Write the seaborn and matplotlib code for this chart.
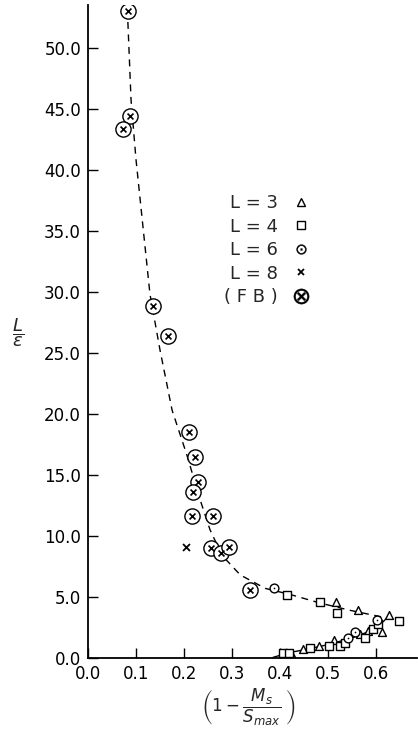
import numpy as np
import pandas as pd
import matplotlib
matplotlib.use("Agg")
import matplotlib.pyplot as plt
import seaborn as sns
from matplotlib.lines import Line2D

# ---- data ----
fb_x = [0.083, 0.0875, 0.073, 0.135, 0.167, 0.210, 0.223, 0.229, 0.219, 0.217, 0.260, 0.256, 0.277, 0.294, 0.3375]
fb_y = [53.0, 44.4, 43.3, 28.8, 26.4, 18.5, 16.5, 14.4, 13.6, 11.6, 11.6, 9.0, 8.6, 9.1, 5.6]

l3_x = [0.517, 0.5625, 0.627, 0.423, 0.448, 0.481, 0.512, 0.567, 0.583, 0.6125]
l3_y = [4.6, 3.9, 3.5, 0.4, 0.7, 0.95, 1.45, 2.0, 2.2, 2.1]

l4_x = [0.414, 0.483, 0.519, 0.648, 0.406, 0.419, 0.4625, 0.502, 0.525, 0.535, 0.577, 0.594, 0.604]
l4_y = [5.2, 4.6, 3.7, 3.0, 0.45, 0.4, 0.8, 1.0, 1.0, 1.2, 1.6, 2.4, 2.75]

l6_x = [0.3875, 0.602, 0.542, 0.556]
l6_y = [5.7, 3.1, 1.6, 2.1]

l8_x = [0.204]
l8_y = [9.1]

curve_x = [0.083, 0.0896, 0.100, 0.115, 0.129, 0.150, 0.175, 0.206, 0.233, 0.254, 0.279, 0.317, 0.369, 0.421, 0.483, 0.546, 0.619]
curve_y = [52.1, 45.7, 40.8, 35.1, 29.8, 25.2, 20.3, 16.6, 13.0, 10.5, 8.4, 6.8, 5.7, 5.2, 4.5, 3.9, 3.3]

low_x = [0.385, 0.42, 0.46, 0.50, 0.55, 0.58, 0.60, 0.615, 0.625]
low_y = [0.05, 0.45, 0.75, 1.1, 1.65, 2.1, 2.6, 3.0, 3.4]

y_ticks = [0, 5, 10, 15, 20, 25, 30, 35, 40, 45, 50]
x_ticks = [0.0, 0.1, 0.2, 0.3, 0.4, 0.5, 0.6]

legend_labels = ["L = 3", "L = 4", "L = 6", "L = 8", "( F B )"]

# ---- figure ----
sns.set_theme(style="white")
plt.rcParams['font.family'] = ['DejaVu Sans']
plt.rcParams['mathtext.fontset'] = 'dejavusans'

fig = plt.figure(figsize=(4.18, 7.49), dpi=100)
ax = fig.add_axes([0.2105, 0.1215, 0.7875, 0.872])

curve_df = pd.DataFrame({"x": curve_x, "y": curve_y})
low_df = pd.DataFrame({"x": low_x, "y": low_y})
sns.lineplot(data=curve_df, x="x", y="y", ax=ax, color="black", lw=1.0,
             linestyle=(0, (5, 4)), sort=False, estimator=None)
sns.lineplot(data=low_df, x="x", y="y", ax=ax, color="black", lw=1.0,
             sort=False, estimator=None)

mk = dict(edgecolor="black", linewidth=1.0, zorder=3)
sns.scatterplot(x=fb_x, y=fb_y, ax=ax, marker="o", s=120, facecolor="white", **mk)
sns.scatterplot(x=fb_x, y=fb_y, ax=ax, marker="x", s=18, color="black", linewidth=1.2, zorder=4)
sns.scatterplot(x=l3_x, y=l3_y, ax=ax, marker="^", s=32, facecolor="white", **mk)
sns.scatterplot(x=l4_x, y=l4_y, ax=ax, marker="s", s=30, facecolor="white", **mk)
sns.scatterplot(x=l6_x, y=l6_y, ax=ax, marker="o", s=40, facecolor="white", **mk)
sns.scatterplot(x=l6_x, y=l6_y, ax=ax, marker=".", s=6, color="black", linewidth=0, zorder=4)
sns.scatterplot(x=l8_x, y=l8_y, ax=ax, marker="x", s=25, color="black", linewidth=1.3, zorder=4)

handles = [
    Line2D([], [], ls="none", marker="^", ms=5.5, mfc="white", mec="black", mew=1.0),
    Line2D([], [], ls="none", marker="s", ms=5.5, mfc="white", mec="black", mew=1.0),
    Line2D([], [], ls="none", marker="$\\odot$", ms=7, mfc="black", mec="black", mew=0.3),
    Line2D([], [], ls="none", marker="x", ms=5, mec="black", mew=1.3),
    Line2D([], [], ls="none", marker="$\\otimes$", ms=11, mfc="black", mec="black", mew=0.3),
]
ax.legend(handles, legend_labels, loc="upper left", bbox_to_anchor=(0.392, 0.721),
          frameon=False, markerfirst=False, fontsize=13, handlelength=1.2,
          handletextpad=0.7, labelspacing=0.3, borderaxespad=0)

ax.set_xlim(0.0, 0.685)
ax.set_ylim(0.0, 53.5)
ax.set_yticks(y_ticks)
ax.set_yticklabels([f"{v:.1f}" for v in y_ticks])
ax.set_xticks(x_ticks)
ax.set_xticklabels([f"{v:.1f}" for v in x_ticks])
ax.tick_params(axis="both", direction="in", length=7, width=1.0, labelsize=12,
               colors="black", left=True, bottom=True, pad=5)
for s in ["top", "right"]:
    ax.spines[s].set_visible(False)
for s in ["left", "bottom"]:
    ax.spines[s].set_color("black")
    ax.spines[s].set_linewidth(1.3)
ax.set_xlabel("")
ax.set_ylabel("")

fig.text(248 / 418, 1 - 707 / 749, r"$\left(1-\dfrac{M_s}{S_{max}}\;\right)$",
         ha="center", va="center", fontsize=12)
fig.text(18 / 418, 1 - 333 / 749, r"$\dfrac{L}{\epsilon}$", ha="center", va="center", fontsize=13)

fig.savefig("out.png", dpi=100)
